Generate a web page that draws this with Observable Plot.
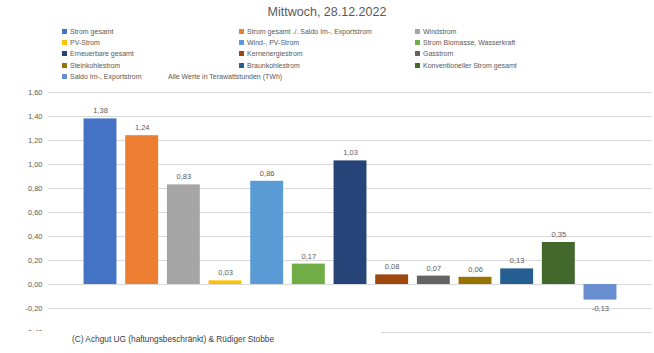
<!DOCTYPE html>
<html>
<head>
<meta charset="utf-8">
<script src="https://cdn.jsdelivr.net/npm/d3@7"></script>
<script src="https://cdn.jsdelivr.net/npm/@observablehq/plot@0.6"></script>
<style>
  html, body { margin: 0; padding: 0; background: #fff; }
  body { width: 654px; height: 353px; position: relative; overflow: hidden; font-family: "Liberation Sans", sans-serif; color: #595959; }
  #title { position: absolute; top: 4px; left: 0; width: 654px; text-align: center; font-size: 12.5px; line-height: 16px; }
  .leg { position: absolute; font-size: 7px; line-height: 10px; white-space: nowrap; }
  .leg i { display: inline-block; width: 5px; height: 5px; margin-right: 3px; vertical-align: 0px; }
  #chart { position: absolute; top: 85px; left: 0; }
  #caption { position: absolute; left: 0; top: 331px; width: 381px; height: 22px; background: #fff; }
  #caption span { position: absolute; left: 72px; top: 2px; font-size: 8.3px; line-height: 12px; color: #404040; }
</style>
</head>
<body>
<div id="title"></div>
<div id="legend"></div>
<div id="chart"></div>
<div id="caption"><span></span></div>
<script>
const title = "Mittwoch, 28.12.2022";
const caption = "(C) Achgut UG (haftungsbeschränkt) & Rüdiger Stobbe";
const unitNote = "Alle Werte in Terawattstunden (TWh)";
const categories = [
  "Strom gesamt",
  "Strom gesamt ./. Saldo Im-, Exportstrom",
  "Windstrom",
  "PV-Strom",
  "Wind-, PV-Strom",
  "Strom Biomasse, Wasserkraft",
  "Erneuerbare gesamt",
  "Kernenergiestrom",
  "Gasstrom",
  "Steinkohlestrom",
  "Braunkohlestrom",
  "Konventioneller Strom gesamt",
  "Saldo Im-, Exportstrom"
];
const values = [1.38, 1.24, 0.83, 0.03, 0.86, 0.17, 1.03, 0.08, 0.07, 0.06, 0.13, 0.35, -0.13];
const colors = ["#4472C4", "#ED7D31", "#A5A5A5", "#FFC000", "#5B9BD5", "#70AD47", "#264478", "#9E480E", "#636363", "#997300", "#255E91", "#43682B", "#698ED0"];
const yTicks = [-0.4, -0.2, 0, 0.2, 0.4, 0.6, 0.8, 1.0, 1.2, 1.4, 1.6];

const fmt = v => v.toFixed(2).replace(".", ",");
const data = categories.map((c, i) => ({cat: c, v: values[i], color: colors[i]}));

document.getElementById("title").textContent = title;
document.querySelector("#caption span").textContent = caption;

// legend: 3 columns, row-major
const legend = document.getElementById("legend");
const colX = [62, 239, 415];
const rowY = [27, 38, 49, 61, 72];
categories.forEach((c, i) => {
  const d = document.createElement("div");
  d.className = "leg";
  d.style.left = colX[i % 3] + "px";
  d.style.top = rowY[Math.floor(i / 3)] + "px";
  d.innerHTML = `<i style="background:${colors[i]}"></i>`;
  d.appendChild(document.createTextNode(c));
  legend.appendChild(d);
});
const note = document.createElement("div");
note.className = "leg";
note.style.left = "168px";
note.style.top = rowY[4] + "px";
note.textContent = unitNote;
legend.appendChild(note);

const chart = Plot.plot({
  width: 654,
  height: 268,
  marginTop: 7,
  marginBottom: 21,
  marginLeft: 48,
  marginRight: 2,
  style: {fontFamily: "'Liberation Sans', sans-serif", color: "#595959", background: "transparent"},
  x: {domain: categories, range: [74.8, 625.2], paddingInner: 0.21, paddingOuter: 0.21, round: false, axis: null},
  y: {domain: [-0.4, 1.6], axis: null},
  marks: [
    Plot.gridY(yTicks, {stroke: "#d9d9d9", strokeOpacity: 1, strokeWidth: 1}),
    Plot.axisY(yTicks, {tickSize: 0, tickPadding: 6, tickFormat: fmt, label: null, fontSize: 7.5, fill: "#595959"}),
    Plot.barY(data, {x: "cat", y: "v", fill: "color"}),
    Plot.text(data.filter(d => d.v >= 0), {x: "cat", y: "v", text: d => fmt(d.v), dy: -8, fontSize: 7.5, fill: "#595959"}),
    Plot.text(data.filter(d => d.v < 0), {x: "cat", y: "v", text: d => fmt(d.v), dy: 8, fontSize: 7.5, fill: "#595959"})
  ]
});
document.getElementById("chart").appendChild(chart);
</script>
</body>
</html>
